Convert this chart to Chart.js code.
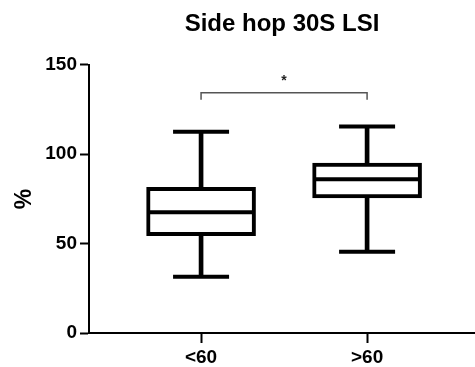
<!DOCTYPE html>
<html>
<head>
<meta charset="utf-8">
<script src="https://cdn.jsdelivr.net/npm/chart.js@4"></script>
<style>
  html, body { margin: 0; padding: 0; background: #fff; }
  #wrap { width: 475px; height: 367px; }
</style>
</head>
<body>
<div id="wrap"><canvas id="chart"></canvas></div>
<script>
// groups on the x axis (placed at x = 1, 2)
const groups = ['<60', '>60'];
const groupPos = [1, 2];

// box plot values (%)
const whiskerMin = [31.5, 45.5];
const q1 = [54.5, 75.5];
const median = [67.5, 86];
const q3 = [81.5, 95];
const whiskerMax = [112.5, 115.5];

// y ticks
const yTicks = [0, 50, 100, 150];

// significance bracket between the two groups
const bracketY = 134.3;
const bracketFoot = 130.5;
const sigLabel = '*';

const FONT = "'Liberation Sans', Arial, sans-serif";
Chart.defaults.font.family = FONT;
Chart.defaults.color = '#000';

const pts = arr => arr.map((v, i) => ({ x: groupPos[i], y: v }));
const ranges = (a, b) => a.map((v, i) => ({ x: groupPos[i], y: [v, b[i]] }));

// draws the asterisk above the bracket using the chart scales
const sigText = {
  id: 'sigText',
  afterDatasetsDraw(chart) {
    const { ctx, scales } = chart;
    const x = (scales.x.getPixelForValue(groupPos[0]) + scales.x.getPixelForValue(groupPos[1])) / 2;
    const y = scales.y.getPixelForValue(bracketY);
    ctx.save();
    ctx.fillStyle = '#222';
    ctx.font = 'bold 14px ' + FONT;
    ctx.textAlign = 'center';
    ctx.textBaseline = 'bottom';
    ctx.fillText(sigLabel, x, y - 5);
    ctx.restore();
  }
};

new Chart(document.getElementById('chart'), {
  type: 'bar',
  data: {
    datasets: [
      {
        // whisker stem, drawn behind the box
        type: 'bar',
        data: ranges(whiskerMin, whiskerMax),
        backgroundColor: '#000',
        barThickness: 4,
        grouped: false,
        order: 3
      },
      {
        // the box q1..q3
        type: 'bar',
        data: ranges(q1, q3),
        backgroundColor: '#fff',
        borderColor: '#000',
        borderWidth: 4,
        borderSkipped: false,
        barThickness: 109,
        grouped: false,
        order: 2
      },
      {
        // median line
        type: 'line',
        data: pts(median),
        showLine: false,
        pointStyle: 'line',
        pointRadius: 53,
        pointBorderWidth: 4,
        pointBorderColor: '#000',
        order: 1
      },
      {
        // whisker caps
        type: 'line',
        data: pts(whiskerMin).concat(pts(whiskerMax)),
        showLine: false,
        pointStyle: 'line',
        pointRadius: 28,
        pointBorderWidth: 4,
        pointBorderColor: '#000',
        order: 1
      },
      {
        // significance bracket
        type: 'line',
        data: [
          { x: groupPos[0], y: bracketFoot },
          { x: groupPos[0], y: bracketY },
          { x: groupPos[1], y: bracketY },
          { x: groupPos[1], y: bracketFoot }
        ],
        borderColor: '#555',
        borderWidth: 1.5,
        pointRadius: 0,
        fill: false,
        order: 0
      }
    ]
  },
  options: {
    responsive: true,
    maintainAspectRatio: false,
    animation: false,
    layout: { autoPadding: false, padding: { top: 0, right: 0, bottom: 0, left: 0 } },
    plugins: {
      legend: { display: false },
      tooltip: { enabled: false },
      title: {
        display: true,
        text: 'Side hop 30S LSI',
        fullSize: false,
        color: '#000',
        font: { size: 24, weight: 'bold', family: FONT },
        padding: { top: 10, bottom: 26 }
      }
    },
    scales: {
      x: {
        type: 'linear',
        offset: false,
        min: 0.325,
        max: 2.65,
        afterBuildTicks: scale => { scale.ticks = groupPos.map(v => ({ value: v })); },
        afterFit: scale => { scale.height = 34; },
        ticks: {
          callback: v => groups[groupPos.indexOf(v)],
          font: { size: 19, weight: 'bold', lineHeight: 1 },
          color: '#000',
          padding: 5,
          maxRotation: 0
        },
        border: { display: true, color: '#000', width: 2 },
        grid: { offset: false, drawOnChartArea: false, tickLength: 10, tickWidth: 2, tickColor: '#000' }
      },
      y: {
        min: 0,
        max: 150,
        afterBuildTicks: scale => { scale.ticks = yTicks.map(v => ({ value: v })); },
        afterFit: scale => { scale.width = 89; },
        ticks: {
          font: { size: 19, weight: 'bold' },
          color: '#000',
          padding: 3
        },
        title: {
          display: true,
          text: '%',
          color: '#000',
          font: { size: 23, weight: 'bold' },
          padding: { top: 11, bottom: 0 }
        },
        border: { display: true, color: '#000', width: 2 },
        grid: { drawOnChartArea: false, tickLength: 9, tickWidth: 2, tickColor: '#000' }
      }
    }
  },
  plugins: [sigText]
});
</script>
</body>
</html>
